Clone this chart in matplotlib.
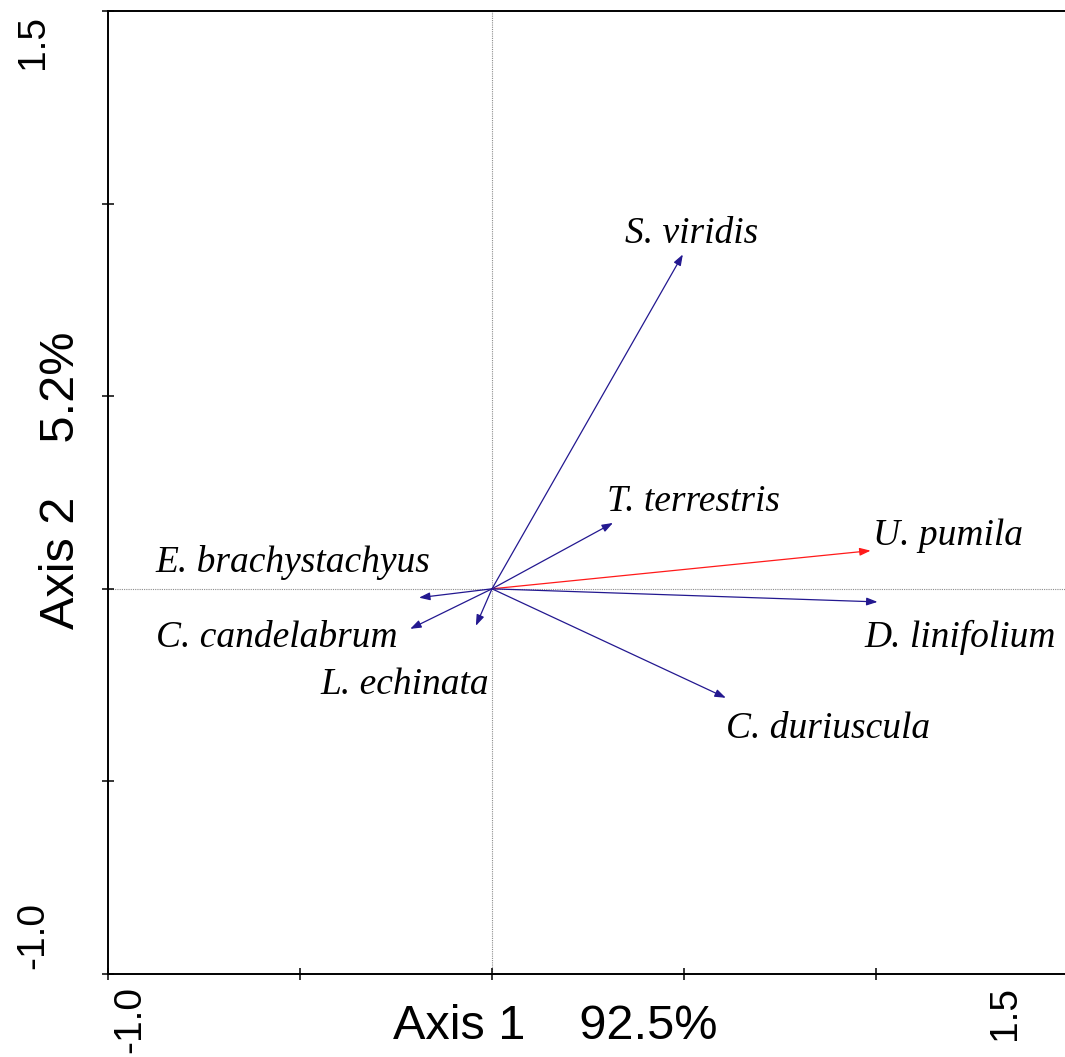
import matplotlib
matplotlib.use("Agg")
import matplotlib.pyplot as plt
from matplotlib import transforms

# species scores (arrow tips)
species = ["S. viridis", "T. terrestris", "U. pumila", "D. linifolium",
           "C. duriuscula", "E. brachystachyus", "C. candelabrum", "L. echinata"]
axis1 = [0.497, 0.315, 0.986, 1.004, 0.609, -0.190, -0.213, -0.042]
axis2 = [0.868, 0.171, 0.099, -0.034, -0.283, -0.023, -0.104, -0.096]
colors = ["#231890", "#231890", "#ff1a1a", "#231890",
          "#231890", "#231890", "#231890", "#231890"]

# label anchors (left edge / baseline)
lab_x = [0.346, 0.299, 0.991, 0.970, 0.609, -0.876, -0.876, -0.447]
lab_y = [0.899, 0.203, 0.114, -0.151, -0.387, 0.044, -0.151, -0.273]

ticks = [-1.0, -0.5, 0.0, 0.5, 1.0, 1.5]
xlab = "Axis 1    92.5%"
ylab = "Axis 2    5.2%"

fig = plt.figure(figsize=(10.65, 10.57), dpi=100)
ax = fig.add_axes([0.1014, 0.0785, 0.9014, 0.9111])
ax.set_xlim(-1.0, 1.5)
ax.set_ylim(-1.0, 1.5)

ax.axhline(0, color="#8c8c8c", lw=0.8, ls=(0, (1, 1)), zorder=1)
ax.axvline(0, color="#8c8c8c", lw=0.8, ls=(0, (1, 1)), zorder=1)

for sx, sy, c in zip(axis1, axis2, colors):
    ax.annotate("", xy=(sx, sy), xytext=(0, 0),
                arrowprops=dict(arrowstyle="-|>,head_length=0.5,head_width=0.18",
                                color=c, lw=0.9, mutation_scale=13,
                                shrinkA=0, shrinkB=0))

for name, lx, ly in zip(species, lab_x, lab_y):
    ax.text(lx, ly, name, fontsize=27, family="Liberation Serif",
            style="italic", ha="left", va="baseline")

ax.spines["right"].set_visible(False)
for s in ["left", "bottom", "top"]:
    ax.spines[s].set_linewidth(1.4)
ax.set_xticks(ticks)
ax.set_yticks(ticks)
ax.tick_params(direction="inout", length=8, width=1.1, labelbottom=False,
               labelleft=False)

# end tick labels, shifted inside the range like the original
sans = "Liberation Sans"
tx = transforms.blended_transform_factory(ax.transData, ax.transAxes)
ty = transforms.blended_transform_factory(ax.transAxes, ax.transData)
off = lambda t, dx, dy: t + transforms.ScaledTranslation(dx / 100, dy / 100, fig.dpi_scale_trans)
ax.text(ticks[0], 0, "-1.0", transform=off(tx, 22, -12), rotation=90,
        fontsize=28, family=sans, ha="center", va="top")
ax.text(ticks[-1], 0, "1.5", transform=off(tx, -63, -12), rotation=90,
        fontsize=28, family=sans, ha="center", va="top")
ax.text(0, ticks[-1], "1.5", transform=off(ty, -75, -31), rotation=90,
        fontsize=28, family=sans, ha="center", va="center")
ax.text(0, ticks[0], "-1.0", transform=off(ty, -75, 39), rotation=90,
        fontsize=28, family=sans, ha="center", va="center")

fig.text(0.521, 0.0284, xlab, fontsize=35, family=sans, ha="center", va="center")
fig.text(0.058, 0.546, ylab, fontsize=35, family=sans, rotation=90,
         ha="center", va="center")

fig.savefig("out.png", dpi=100)
